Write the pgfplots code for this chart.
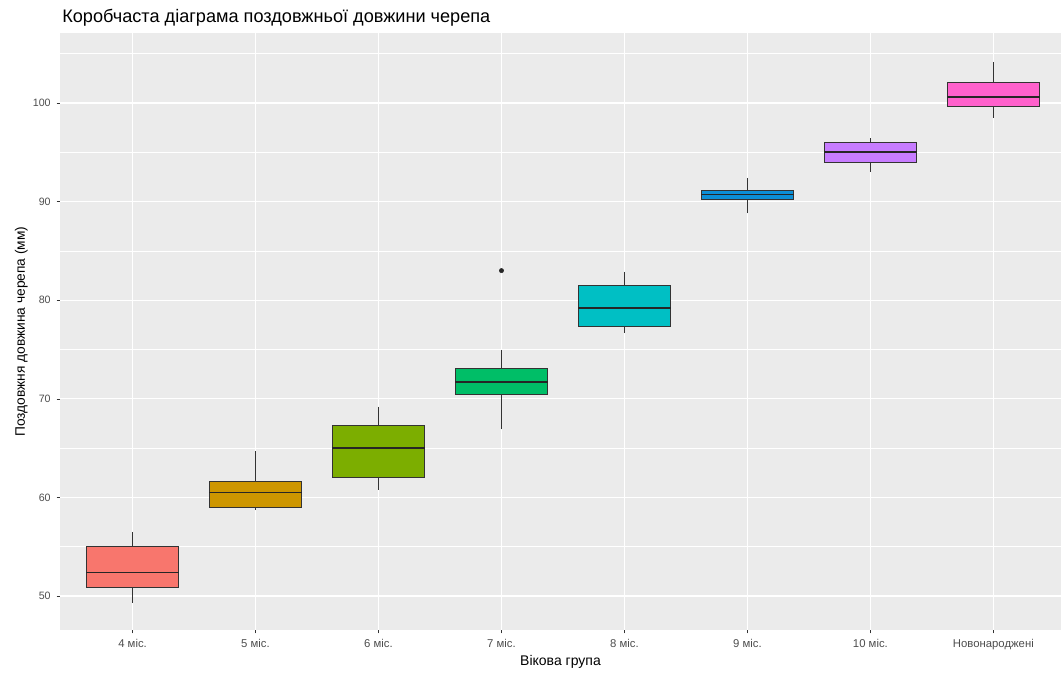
\documentclass[border=0pt]{standalone}
\usepackage{fontspec}
\setmainfont{Liberation Sans}
\usepackage{pgfplots}
\pgfplotsset{compat=1.18}
\usepgfplotslibrary{statistics}
\definecolor{panelbg}{HTML}{EBEBEB}
\definecolor{gtext}{HTML}{4D4D4D}
\definecolor{gline}{HTML}{333333}
\definecolor{c1}{HTML}{F8766D}
\definecolor{c2}{HTML}{CD9600}
\definecolor{c3}{HTML}{7CAE00}
\definecolor{c4}{HTML}{00BE67}
\definecolor{c5}{HTML}{00BFC4}
\definecolor{c6}{HTML}{0C8FD6}
\definecolor{c7}{HTML}{C77CFF}
\definecolor{c8}{HTML}{FF61CC}
\begin{document}
\begin{tikzpicture}
\begin{axis}[
  at={(0,0)}, anchor=south west,
  scale only axis, width=750.75pt, height=447.75pt,
  xmin=0.41, xmax=8.55, ymin=46.55, ymax=107.1,
  axis background/.style={fill=panelbg},
  axis line style={draw=none},
  xtick pos=bottom, ytick pos=left,
  xtick={1,2,3,4,5,6,7,8},
  xticklabels={4 міс., 5 міс., 6 міс., 7 міс., 8 міс., 9 міс., 10 міс., Новонароджені},
  ytick={50,60,70,80,90,100},
  minor ytick={45,55,65,75,85,95,105},
  grid=both,
  major grid style={white, line width=0.85pt},
  minor grid style={white, line width=0.4pt},
  tick align=outside, major tick length=2.5pt, minor tick length=0pt,
  tick style={gline, line width=0.4pt},
  /pgf/number format/assume math mode=true,
  yticklabel style={font=\fontsize{8}{9}\selectfont, text=gtext, xshift=-1pt},
  xticklabel style={font=\fontsize{8.5}{10}\selectfont, text=gtext, yshift=-1pt},
  title={Коробчаста діаграма поздовжньої довжини черепа},
  title style={at={(0,1)}, anchor=base west, xshift=1.5pt, yshift=1.5pt, font=\fontsize{13.6}{15}\selectfont, inner sep=0pt},
  xlabel={Вікова група},
  ylabel={Поздовжня довжина черепа (мм)},
  xlabel style={font=\fontsize{10.5}{12}\selectfont, text=black, yshift=3pt},
  ylabel style={font=\fontsize{10.3}{12}\selectfont, text=black, yshift=-3pt},
  boxplot/draw direction=y,
  boxplot/box extend=0.75,
  boxplot/whisker extend=0,
  boxplot/every median/.style={line width=1.2pt, draw=black!85},
  boxplot/every box/.style={draw=gline, line width=0.45pt},
  boxplot/every whisker/.style={draw=gline, line width=0.45pt},
]
\addplot[boxplot prepared={draw position=1, lower whisker=49.3, lower quartile=50.9, median=52.4, upper quartile=55.0, upper whisker=56.5}, fill=c1, draw=gline] coordinates {};
\addplot[boxplot prepared={draw position=2, lower whisker=58.7, lower quartile=59.0, median=60.5, upper quartile=61.6, upper whisker=64.7}, fill=c2, draw=gline] coordinates {};
\addplot[boxplot prepared={draw position=3, lower whisker=60.8, lower quartile=62.0, median=65.0, upper quartile=67.3, upper whisker=69.2}, fill=c3, draw=gline] coordinates {};
\addplot[boxplot prepared={draw position=4, lower whisker=66.9, lower quartile=70.5, median=71.7, upper quartile=73.1, upper whisker=74.9}, fill=c4, draw=gline, mark=*, mark size=1.6pt, mark options={fill=black!85, draw=black!85}] coordinates {(0,83.0)};
\addplot[boxplot prepared={draw position=5, lower whisker=76.7, lower quartile=77.4, median=79.2, upper quartile=81.5, upper whisker=82.9}, fill=c5, draw=gline] coordinates {};
\addplot[boxplot prepared={draw position=6, lower whisker=88.8, lower quartile=90.2, median=90.7, upper quartile=91.1, upper whisker=92.4}, fill=c6, draw=gline] coordinates {};
\addplot[boxplot prepared={draw position=7, lower whisker=93.0, lower quartile=94.0, median=95.0, upper quartile=96.0, upper whisker=96.4}, fill=c7, draw=gline] coordinates {};
\addplot[boxplot prepared={draw position=8, lower whisker=98.5, lower quartile=99.7, median=100.6, upper quartile=102.1, upper whisker=104.2}, fill=c8, draw=gline] coordinates {};
\end{axis}
\path[use as bounding box] (-45pt,-30pt) rectangle (751.5pt,472.5pt);
\end{tikzpicture}
\end{document}
